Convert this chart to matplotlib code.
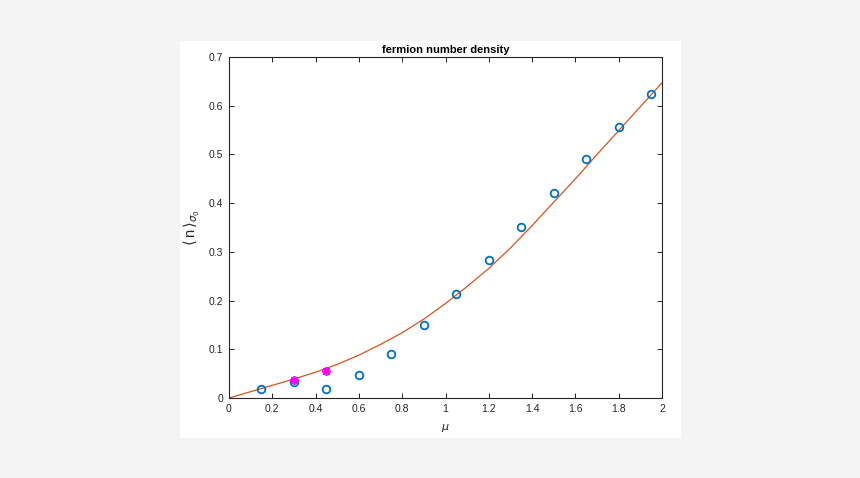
import numpy as np
import matplotlib
matplotlib.use("Agg")
import matplotlib.pyplot as plt
from matplotlib.patches import Rectangle

plt.rcParams['font.family'] = ['Liberation Sans', 'DejaVu Sans']

# measured points
mu_pts = [0.15, 0.3, 0.45, 0.6, 0.75, 0.9, 1.05, 1.2, 1.35, 1.5, 1.65, 1.8, 1.95]
n_pts = [0.018, 0.033, 0.019, 0.048, 0.090, 0.149, 0.214, 0.283, 0.351, 0.421, 0.490, 0.557, 0.625]

# star points
mu_star = [0.3, 0.45]
n_star = [0.037, 0.056]

# curve
mu_curve = [0.0, 0.1, 0.2, 0.3, 0.4, 0.5, 0.6, 0.7, 0.8, 0.9, 1.0,
            1.1, 1.2, 1.3, 1.4, 1.5, 1.6, 1.7, 1.8, 1.9, 2.0]
n_curve = [0.0, 0.013, 0.026, 0.039, 0.053, 0.069, 0.088, 0.110, 0.134, 0.162, 0.194,
           0.229, 0.266, 0.308, 0.354, 0.402, 0.450, 0.500, 0.549, 0.598, 0.647]

xticks = [0, 0.2, 0.4, 0.6, 0.8, 1, 1.2, 1.4, 1.6, 1.8, 2]
yticks = [0, 0.1, 0.2, 0.3, 0.4, 0.5, 0.6, 0.7]

fig = plt.figure(figsize=(8.6, 4.78), dpi=100, facecolor='#f4f4f4')
panel = Rectangle((180/860, 1-438/478), 501/860, 397/478,
                  transform=fig.transFigure, facecolor='white',
                  edgecolor='none', zorder=-10)
fig.add_artist(panel)

ax = fig.add_axes([229/860, 1-398/478, 433/860, 341/478])
ax.set_zorder(1)
ax.plot(mu_curve, n_curve, color='#D95319', lw=0.9)
ax.plot(mu_pts, n_pts, 'o', mfc='none', mec='#0072BD', ms=5.5, mew=1.3)
ax.plot(mu_star, n_star, ls='none', marker=(8, 2, 0), color='#FF00FF', ms=6.5, mew=1.2)

ax.set_xlim(0, 2)
ax.set_ylim(0, 0.7)
ax.set_xticks(xticks)
ax.set_yticks(yticks)
ax.set_xticklabels(['0', '0.2', '0.4', '0.6', '0.8', '1', '1.2', '1.4', '1.6', '1.8', '2'])
ax.set_yticklabels(['0', '0.1', '0.2', '0.3', '0.4', '0.5', '0.6', '0.7'])
ax.tick_params(direction='in', top=True, right=True, length=3.5, width=0.7,
               colors='#262626', labelsize=7.5, pad=4)
for s in ax.spines.values():
    s.set_color('#262626')
    s.set_linewidth(0.8)

ax.set_title('fermion number density', fontsize=8, fontweight='bold', pad=3)
ax.set_xlabel(r'$\mu$', fontsize=8, labelpad=6, color='#262626')
ax.set_ylabel(r'$\langle\,$n$\,\rangle_{\sigma_0}$', fontsize=10.5, labelpad=5, color='#262626')

fig.savefig('out.png', dpi=100, facecolor=fig.get_facecolor())
